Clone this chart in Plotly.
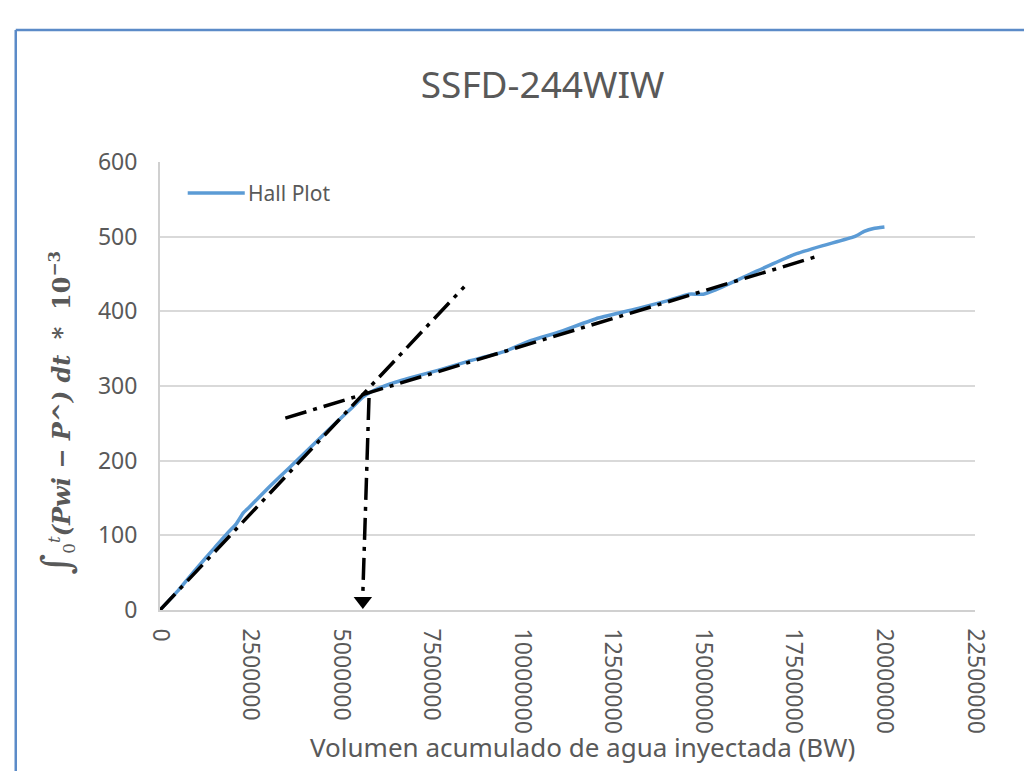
import plotly.graph_objects as go

# Hall plot curve (cumulative injected water vs. Hall integral * 1e-3)
vol_bw = [0, 0.5e6, 1.0e6, 1.5e6, 1.88e6, 2.1e6, 2.3e6, 2.45e6, 3.0e6, 3.6e6, 4.2e6,
          4.8e6, 5.3e6, 5.6e6, 5.82e6, 6.37e6, 7.0e6, 7.67e6, 8.5e6, 9.5e6, 10.25e6,
          11.0e6, 12.1e6, 13.2e6, 14.0e6, 14.6e6, 15.0e6, 15.3e6, 16.3e6, 17.5e6,
          18.3e6, 19.17e6, 19.44e6, 19.7e6, 20.0e6]
hall_int = [0, 26, 55, 83, 104, 115, 130, 137, 164, 192, 220,
            248, 271, 285, 292, 303, 312, 321, 333, 346, 361,
            372, 391, 404, 414, 423, 423, 428, 450, 476,
            488, 500, 507, 511, 513]

# hand-drawn tangent lines and arrow
tan1_x = [0, 8.4e6]
tan1_y = [0, 433]
tan2_x = [3.46e6, 18.1e6]
tan2_y = [257, 473]
arrow_x = [5.77e6, 5.6e6]
arrow_y = [284, 22]
arrow_tip_x = [5.6e6]
arrow_tip_y = [12]

x_ticks = [0, 2500000, 5000000, 7500000, 10000000, 12500000, 15000000,
           17500000, 20000000, 22500000]
y_ticks = [0, 100, 200, 300, 400, 500, 600]

grey = "#595959"
blue = "#5B9BD5"
dashdot = "22px,7px,4px,7px"

fig = go.Figure()
fig.add_trace(go.Scatter(x=vol_bw, y=hall_int, mode="lines", name="Hall Plot", showlegend=False,
                         line=dict(color=blue, width=3.5, shape="spline", smoothing=0.4)))
for xs, ys in [(tan1_x, tan1_y), (tan2_x, tan2_y), (arrow_x, arrow_y)]:
    fig.add_trace(go.Scatter(x=xs, y=ys, mode="lines", showlegend=False,
                             line=dict(color="black", width=3.5, dash=dashdot)))
fig.add_trace(go.Scatter(x=arrow_tip_x, y=arrow_tip_y, mode="markers", showlegend=False,
                         marker=dict(symbol="triangle-down", size=16, color="black")))

fig.update_layout(
    width=1032, height=771,
    margin=dict(l=152, r=65, t=154, b=169),
    plot_bgcolor="white", paper_bgcolor="white",
    font=dict(family="Noto Sans", color=grey),
    title=dict(text="SSFD-244WIW", x=0.518, xanchor="center", y=1 - 77 / 771, yanchor="middle",
               font=dict(size=37, color=grey)),
    showlegend=False,
)
fig.update_xaxes(range=[0, 22500000], tickvals=x_ticks, ticktext=[str(v) for v in x_ticks],
                 tickangle=90, tickfont=dict(size=23, color=grey), showgrid=False,
                 showline=True, linecolor="#D0D0D0", linewidth=2, zeroline=False, ticks="",
                 ticklabelstandoff=12)
fig.update_yaxes(range=[0, 600], tickvals=y_ticks, tickfont=dict(size=23, color=grey),
                 showgrid=True, gridcolor="#D9D9D9", gridwidth=2, showline=True,
                 linecolor="#D0D0D0", linewidth=2, zeroline=False, ticks="", ticklabelstandoff=16)

# legend drawn by hand so its line sample is as long as in the original
fig.add_shape(type="line", xref="paper", yref="paper", x0=0.034, x1=0.104, y0=0.931, y1=0.931,
              line=dict(color=blue, width=3.5))
fig.add_annotation(xref="paper", yref="paper", x=0.106, y=0.931, xanchor="left", yanchor="middle",
                   showarrow=False, text="Hall Plot", font=dict(size=21, color=grey))

fig.add_annotation(xref="paper", yref="paper", x=0.518, y=-0.35, showarrow=False,
                   text="Volumen acumulado de agua inyectada (BW)",
                   font=dict(size=26, color=grey))
fig.add_annotation(xref="paper", yref="paper", x=-0.128, y=0.44, xanchor="center", yanchor="middle",
                   showarrow=False, textangle=-90,
                   text="<span style='font-size:40px'>∫</span><sub>0</sub><sup><i>t</i></sup>"
                        "<b><i>(Pwi − P^) dt</i></b>  <b>*  10<sup>−3</sup></b>",
                   font=dict(size=24, family="DejaVu Serif", color=grey))

# chart frame (Excel-like border)
fig.add_shape(type="line", xref="paper", yref="paper", x0=-0.177, x1=1.2, y0=1.2946, y1=1.2946,
              line=dict(color="#5B8BC8", width=2.5))
fig.add_shape(type="line", xref="paper", yref="paper", x0=-0.177, x1=-0.177, y0=1.2946, y1=-0.4,
              line=dict(color="#5B8BC8", width=2.5))

fig.write_html("out.html")
